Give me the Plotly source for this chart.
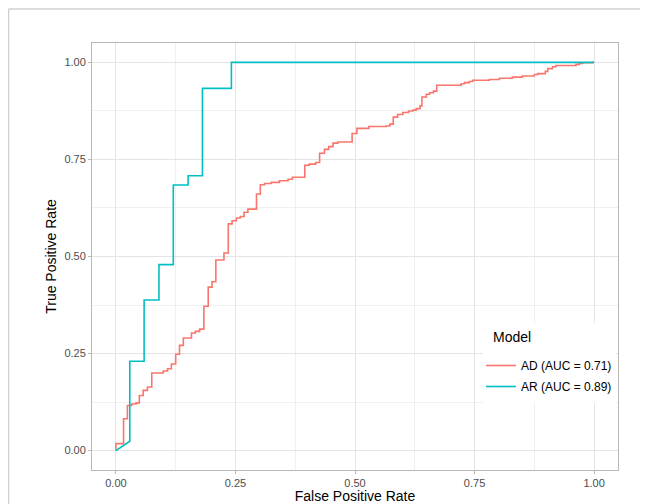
import plotly.graph_objects as go

# ROC curve for model AD (step jump points: horizontal then vertical)
ad_fpr = [0.0, 0.0, 0.016, 0.024, 0.033, 0.042, 0.049, 0.057, 0.066, 0.075, 0.099, 0.108,
          0.116, 0.125, 0.133, 0.141, 0.158, 0.166, 0.175, 0.184, 0.193, 0.201, 0.209,
          0.226, 0.235, 0.243, 0.252, 0.260, 0.268, 0.276, 0.294, 0.302, 0.311, 0.325,
          0.342, 0.360, 0.369, 0.395, 0.404, 0.418, 0.426, 0.436, 0.445, 0.454, 0.464,
          0.494, 0.504, 0.529, 0.565, 0.573, 0.580, 0.589, 0.600, 0.612, 0.621, 0.628,
          0.636, 0.640, 0.649, 0.656, 0.664, 0.671, 0.722, 0.729, 0.739, 0.746, 0.781,
          0.802, 0.829, 0.850, 0.875, 0.882, 0.898, 0.903, 0.913, 0.920, 0.962, 0.969,
          0.976, 0.996, 1.0]
ad_tpr = [0.0, 0.018, 0.082, 0.116, 0.120, 0.123, 0.142, 0.155, 0.164, 0.200, 0.205, 0.211,
          0.223, 0.248, 0.271, 0.290, 0.303, 0.307, 0.313, 0.372, 0.421, 0.435, 0.491,
          0.509, 0.584, 0.592, 0.599, 0.603, 0.614, 0.622, 0.661, 0.685, 0.688, 0.691,
          0.695, 0.699, 0.704, 0.735, 0.738, 0.742, 0.766, 0.776, 0.783, 0.792, 0.795,
          0.817, 0.830, 0.835, 0.836, 0.841, 0.859, 0.866, 0.871, 0.875, 0.877, 0.881,
          0.888, 0.911, 0.918, 0.922, 0.926, 0.941, 0.945, 0.948, 0.951, 0.954, 0.956,
          0.959, 0.962, 0.965, 0.969, 0.971, 0.977, 0.984, 0.989, 0.992, 0.995, 0.997,
          0.999, 1.0, 1.0]

# ROC curve for model AR (path vertices)
ar_fpr = [0.0, 0.029, 0.029, 0.059, 0.059, 0.090, 0.090, 0.120, 0.120, 0.151, 0.151,
          0.181, 0.181, 0.2415, 0.2415, 1.0]
ar_tpr = [0.0, 0.024, 0.230, 0.230, 0.388, 0.388, 0.479, 0.479, 0.684, 0.684, 0.708,
          0.708, 0.933, 0.933, 1.0, 1.0]

series_names = ["AD (AUC = 0.71)", "AR (AUC = 0.89)"]
series_colors = ["#F8766D", "#00BFC4"]
legend_title = "Model"
tick_vals = [0.0, 0.25, 0.5, 0.75, 1.0]
tick_text = ["0.00", "0.25", "0.50", "0.75", "1.00"]

FONT = "Liberation Sans, Arial, Helvetica, sans-serif"

fig = go.Figure()
fig.add_trace(go.Scatter(x=ad_fpr, y=ad_tpr, mode="lines", name=series_names[0],
                         legendgroup="a",
                         line=dict(color=series_colors[0], width=1.6, shape="hv")))
fig.add_trace(go.Scatter(x=ar_fpr, y=ar_tpr, mode="lines", name=series_names[1],
                         legendgroup="b",
                         line=dict(color=series_colors[1], width=1.6)))

axis_common = dict(
    range=[-0.05, 1.05], tickvals=tick_vals, ticktext=tick_text,
    showgrid=True, gridcolor="#E4E4E4", gridwidth=1,
    minor=dict(dtick=0.125, tick0=0.125, showgrid=True, gridcolor="#F0F0F0", gridwidth=1),
    zeroline=False, showline=True, linecolor="#B8B8B8", linewidth=1, mirror=True,
    ticks="outside", ticklen=3, tickcolor="#B8B8B8", tickwidth=1,
    tickfont=dict(family=FONT, size=11, color="#4D4D4D"),
    automargin=False,
)

fig.update_layout(
    width=640, height=496,
    margin=dict(l=84, r=30, t=35, b=34),
    paper_bgcolor="white", plot_bgcolor="white",
    font=dict(family=FONT, color="black"),
    xaxis=dict(**axis_common, ticklabelstandoff=0,
               title=dict(text="False Positive Rate",
                          font=dict(family=FONT, size=14, color="black"), standoff=11)),
    yaxis=dict(**axis_common, title=dict(text="True Positive Rate",
               font=dict(family=FONT, size=14, color="black"), standoff=4)),
    legend=dict(
        x=0.7395, y=0.2787, xanchor="left", yanchor="top",
        bgcolor="rgba(0,0,0,0)", borderwidth=0,
        font=dict(family=FONT, size=12, color="black"),
        itemwidth=30, tracegroupgap=2,
    ),
    showlegend=True,
)

# White legend key box covering the grid
fig.add_shape(type="rect", xref="paper", yref="paper",
              x0=0.7433, x1=0.9962, y0=0.1569, y1=0.3443,
              fillcolor="white", line=dict(width=0), layer="above")
fig.add_annotation(text=legend_title, xref="paper", yref="paper",
                   x=0.7586, y=0.3115, xanchor="left", yanchor="middle",
                   showarrow=False, font=dict(family=FONT, size=14, color="black"))

# Outer frame lines (top and left) of the surrounding screenshot
fig.add_shape(type="line", xref="paper", yref="paper",
              x0=-0.1587, x1=1.06, y0=1.0796, y1=1.0796,
              line=dict(color="#D0D0D0", width=1.5))
fig.add_shape(type="line", xref="paper", yref="paper",
              x0=-0.1587, x1=-0.1587, y0=1.0796, y1=-0.09,
              line=dict(color="#D0D0D0", width=1.5))

fig.write_html("out.html")
